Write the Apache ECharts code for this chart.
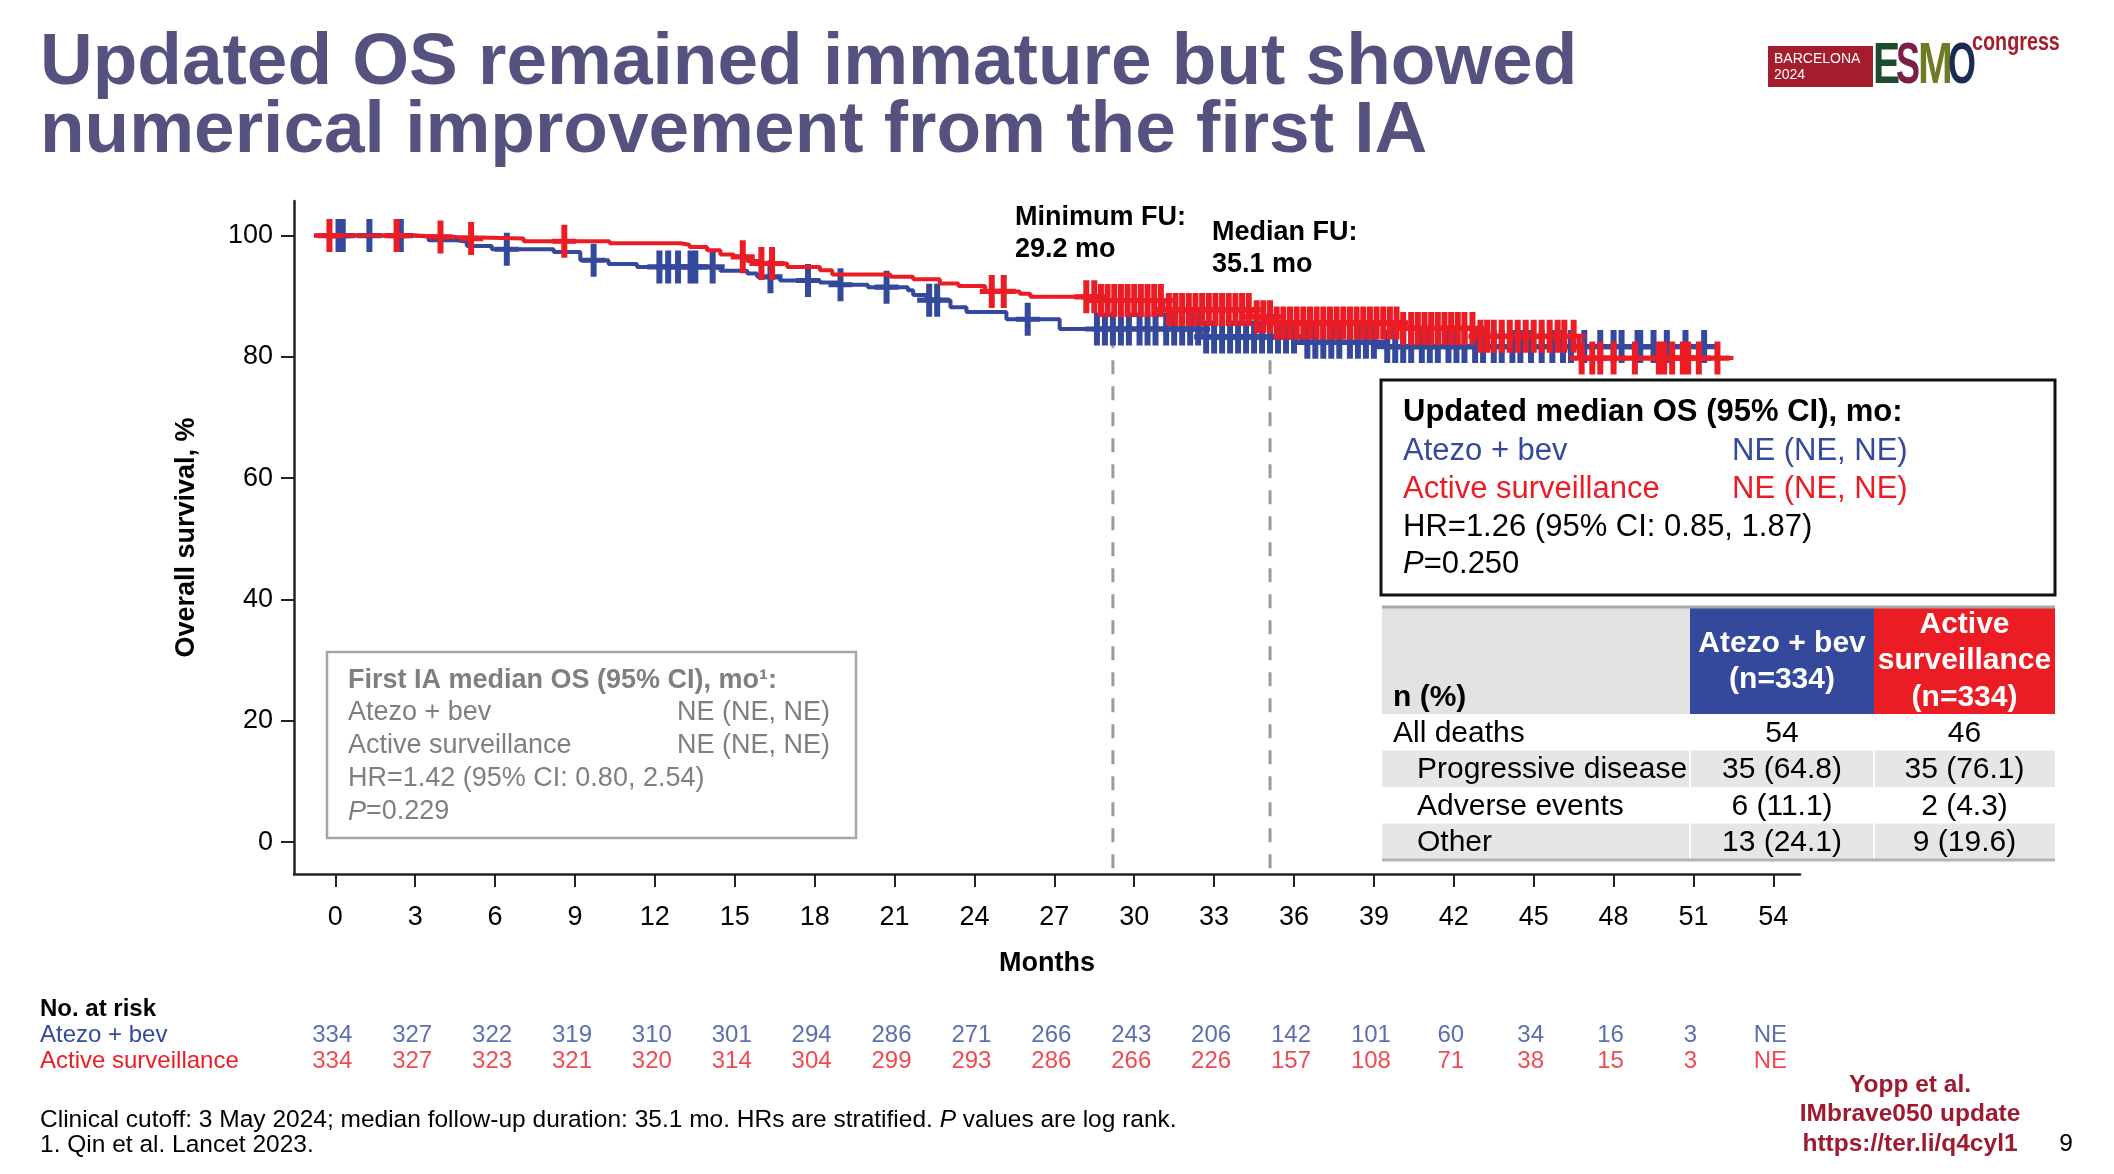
<!DOCTYPE html>
<html><head><meta charset="utf-8">
<script src="https://cdn.jsdelivr.net/npm/echarts@6/dist/echarts.min.js"></script>
<style>html,body{margin:0;padding:0;background:#fff}#c{width:2114px;height:1174px}</style>
</head><body><div id="c"></div>
<script>
const FF = '"Liberation Sans", Arial, Helvetica, sans-serif';
const BLUE = '#34499c';
const RED = '#ec1c24';
const TITLE_C = '#56527f';
const DARKRED = '#9e1b2f';

// ---- data ----
const xTicks = [0,3,6,9,12,15,18,21,24,27,30,33,36,39,42,45,48,51,54];
const yTicks = [0,20,40,60,80,100];

// Kaplan-Meier curves [month, survival %]
const atezoCurve = [[0,100],[3.73,99.84],[4.3,99.24],[5.36,98.96],[5.74,98.3],[6.68,97.75],[9.0,97.3],[10.0,95.94],[11.06,95.33],[12.13,94.84],[15.0,94.56],[15.26,94.2],[16.27,93.74],[16.64,93.2],[17.5,92.6],[19.0,92.25],[19.65,91.9],[20.8,91.5],[22.3,91.0],[22.5,90.2],[23.0,89.35],[23.9,88.2],[24.5,87.4],[26.0,86.2],[28.0,84.6],[33.3,83.3],[37.1,82.4],[39.9,81.7],[52.4,81.7]];
const activeCurve = [[0,100],[3.73,99.78],[5.36,99.5],[7.87,99.07],[11.1,98.74],[13.76,98.5],[14.1,98.1],[14.76,97.6],[15.26,96.9],[15.76,96.5],[16.27,95.8],[16.77,95.4],[17.77,94.8],[19.0,94.3],[19.46,93.6],[21.65,93.2],[22.5,92.8],[23.5,92.1],[24.2,91.7],[25.2,90.8],[26.5,90.4],[26.9,89.9],[29.5,89.3],[31.9,87.8],[35.2,86.6],[36.1,85.6],[40.7,84.7],[43.7,83.4],[47.5,79.8],[53.3,79.8]];

// censoring times (months)
const atezoCensor = [0.92,1.08,2.08,3.26,7.24,10.5,12.97,13.3,13.67,14.14,14.32,14.97,17.14,18.55,19.77,21.5,23.1,23.4,26.8,
  29.4,29.7,30.0,30.3,30.6,31.0,31.3,31.6,32.0,32.3,32.6,32.9,33.2,33.5,33.8,34.1,34.4,34.7,35.0,35.3,35.6,35.9,36.2,36.5,36.8,
  37.3,37.6,37.9,38.2,38.5,38.9,39.2,39.5,39.8,40.3,40.6,40.9,41.2,41.6,41.9,42.2,42.6,42.9,43.2,43.6,43.9,44.3,44.6,45.0,45.3,
  45.7,46.1,46.5,46.9,47.2,47.7,48.3,48.8,49.1,49.7,49.8,50.3,50.8,51.5,52.2];
const activeCensor = [0.58,3.1,4.75,5.9,9.4,16.1,16.8,17.2,25.45,25.9,29.0,
  29.3,29.55,29.8,30.05,30.3,30.55,30.8,31.05,31.3,31.55,31.8,32.1,32.35,32.6,32.85,33.1,33.35,33.6,33.85,34.1,34.35,34.6,34.85,
  35.1,35.4,35.65,35.9,36.15,36.4,36.65,36.9,37.15,37.4,37.65,37.9,38.15,38.4,38.65,38.9,39.15,39.4,39.65,39.9,40.15,40.4,40.65,
  40.9,41.2,41.45,41.7,41.95,42.2,42.45,42.7,42.95,43.2,43.5,43.8,44.05,44.3,44.6,44.9,45.2,45.5,45.8,46.1,46.4,46.7,46.95,47.3,
  47.6,48.0,48.3,48.8,49.6,50.5,50.7,51.0,51.4,51.6,52.0,52.7];

const minFU = 29.2, medFU = 35.1;

// number at risk
const riskRows = ['Atezo + bev', 'Active surveillance'];
const atezoRisk = [334,327,322,319,310,301,294,286,271,266,243,206,142,101,60,34,16,3,'NE'];
const activeRisk = [334,327,323,321,320,314,304,299,293,286,266,226,157,108,71,38,15,3,'NE'];

// deaths table
const tableRows = ['All deaths','Progressive disease','Adverse events','Other'];
const atezoDeaths = ['54','35 (64.8)','6 (11.1)','13 (24.1)'];
const activeDeaths = ['46','35 (76.1)','2 (4.3)','9 (19.6)'];

// ---- helpers ----
function stepValue(curve, t) {
  let v = curve[0][1];
  for (const p of curve) { if (p[0] <= t) v = p[1]; else break; }
  return v;
}
const censorPath = 'path://M9,0H15V13.5H24V18.5H15V32H9V18.5H0V13.5H9Z';

function T(x, y, text, o) {
  o = o || {};
  const el = {
    type: 'text', x: x, y: y, z: 10,
    style: {
      text: text,
      fill: o.color || '#000',
      font: (o.italic ? 'italic ' : '') + (o.bold ? 'bold ' : '') + (o.size || 24) + 'px ' + FF,
      align: o.align || 'left',
      verticalAlign: o.va || 'middle'
    }
  };
  if (o.rich) el.style.rich = o.rich;
  if (o.scaleX) el.scaleX = o.scaleX;
  return el;
}
function R(x, y, w, h, fill, stroke, lw) {
  return { type: 'rect', z: 5, shape: { x: x, y: y, width: w, height: h },
    style: { fill: fill || 'none', stroke: stroke || null, lineWidth: lw || 0 } };
}

const graphics = [];
// title
graphics.push(T(40, 64, 'Updated OS remained immature but showed', {bold:true, size:73, color:TITLE_C}));
graphics.push(T(40, 132, 'numerical improvement from the first IA', {bold:true, size:73, color:TITLE_C}));
// logo
graphics.push(R(1768, 46, 105, 41, '#a51d2d'));
graphics.push(T(1774, 59, 'BARCELONA', {size:14, color:'#fff'}));
graphics.push(T(1774, 75, '2024', {size:14, color:'#fff'}));
graphics.push(T(1873, 67, 'E', {bold:true, size:58, color:'#1e4b2b', scaleX:0.7}));
graphics.push(T(1896, 67, 'S', {bold:true, size:58, color:'#7b1f4a', scaleX:0.62}));
graphics.push(T(1918, 67, 'M', {bold:true, size:58, color:'#6e7b24', scaleX:0.72}));
graphics.push(T(1948, 67, 'O', {bold:true, size:58, color:'#1b2c54', scaleX:0.62}));
graphics.push(T(1972, 43, 'congress', {bold:true, size:26, color:'#a51d2d', scaleX:0.76}));

// FU annotations
graphics.push(T(1015, 218, 'Minimum FU:', {bold:true, size:27}));
graphics.push(T(1015, 250, '29.2 mo', {bold:true, size:27}));
graphics.push(T(1212, 233, 'Median FU:', {bold:true, size:27}));
graphics.push(T(1212, 265, '35.1 mo', {bold:true, size:27}));

// First IA box
const GREY = '#7f7f7f';
graphics.push(R(327, 652, 529, 186, '#fff', '#a6a6a6', 2.5));
graphics.push(T(348, 681, 'First IA median OS (95% CI), mo\u00b9:', {bold:true, size:27, color:GREY}));
graphics.push(T(348, 713, 'Atezo + bev', {size:27, color:GREY}));
graphics.push(T(677, 713, 'NE (NE, NE)', {size:27, color:GREY}));
graphics.push(T(348, 746, 'Active surveillance', {size:27, color:GREY}));
graphics.push(T(677, 746, 'NE (NE, NE)', {size:27, color:GREY}));
graphics.push(T(348, 779, 'HR=1.42 (95% CI: 0.80, 2.54)', {size:27, color:GREY}));
graphics.push(T(348, 812, '{i|P}=0.229', {size:27, color:GREY, rich:{i:{fontStyle:'italic', fontSize:27, fontFamily:FF, fill:GREY}}}));

// Updated box
graphics.push(R(1381, 380, 674, 215, '#fff', '#111', 3));
graphics.push(T(1403, 412, 'Updated median OS (95% CI), mo:', {bold:true, size:31}));
graphics.push(T(1403, 451, 'Atezo + bev', {size:31, color:BLUE}));
graphics.push(T(1732, 451, 'NE (NE, NE)', {size:31, color:BLUE}));
graphics.push(T(1403, 489, 'Active surveillance', {size:31, color:RED}));
graphics.push(T(1732, 489, 'NE (NE, NE)', {size:31, color:RED}));
graphics.push(T(1403, 527, 'HR=1.26 (95% CI: 0.85, 1.87)', {size:31}));
graphics.push(T(1403, 564, '{i|P}=0.250', {size:31, rich:{i:{fontStyle:'italic', fontSize:31, fontFamily:FF}}}));

// deaths table
const TX = 1382, C1 = 1690, C2 = 1874, TE = 2055;
graphics.push(R(TX, 607, C1 - TX, 107, '#e2e2e2'));
graphics.push(R(C1, 607, C2 - C1, 107, BLUE));
graphics.push(R(C2, 607, TE - C2, 107, RED));
graphics.push({type:'line', z:6, shape:{x1:TX, y1:607, x2:TE, y2:607}, style:{stroke:'#a8a8a8', lineWidth:3}});
graphics.push(T(1393, 698, 'n (%)', {bold:true, size:30}));
graphics.push(T((C1 + C2) / 2, 644, 'Atezo + bev', {bold:true, size:30, color:'#fff', align:'center'}));
graphics.push(T((C1 + C2) / 2, 680, '(n=334)', {bold:true, size:30, color:'#fff', align:'center'}));
graphics.push(T((C2 + TE) / 2, 625, 'Active', {bold:true, size:30, color:'#fff', align:'center'}));
graphics.push(T((C2 + TE) / 2, 661, 'surveillance', {bold:true, size:30, color:'#fff', align:'center'}));
graphics.push(T((C2 + TE) / 2, 698, '(n=334)', {bold:true, size:30, color:'#fff', align:'center'}));
const rowH = 36.5, row0 = 714;
tableRows.forEach((name, i) => {
  const y0 = row0 + i * rowH;
  if (i % 2 === 1) {
    graphics.push(R(TX, y0, C1 - TX - 1, rowH, '#e6e6e6'));
    graphics.push(R(C1 + 1, y0, C2 - C1 - 2, rowH, '#e6e6e6'));
    graphics.push(R(C2 + 1, y0, TE - C2 - 1, rowH, '#e6e6e6'));
  }
  const cy = y0 + rowH / 2 + 1;
  graphics.push(T(i === 0 ? 1393 : 1417, cy, name, {size:30}));
  graphics.push(T((C1 + C2) / 2, cy, atezoDeaths[i], {size:30, align:'center'}));
  graphics.push(T((C2 + TE) / 2, cy, activeDeaths[i], {size:30, align:'center'}));
});
graphics.push({type:'line', z:6, shape:{x1:TX, y1:row0 + 4 * rowH, x2:TE, y2:row0 + 4 * rowH}, style:{stroke:'#b4b4b4', lineWidth:3}});

// at risk header + footnotes
graphics.push(T(40, 1009, 'No. at risk', {bold:true, size:24}));
graphics.push(T(40, 1120, 'Clinical cutoff: 3 May 2024; median follow-up duration: 35.1 mo. HRs are stratified. {i|P} values are log rank.',
  {size:24.5, rich:{i:{fontStyle:'italic', fontSize:24.5, fontFamily:FF}}}));
graphics.push(T(40, 1145, '1. Qin et al. Lancet 2023.', {size:24.5}));
graphics.push(T(1910, 1085, 'Yopp et al.', {bold:true, size:24.5, color:DARKRED, align:'center'}));
graphics.push(T(1910, 1114, 'IMbrave050 update', {bold:true, size:24.5, color:DARKRED, align:'center'}));
graphics.push(T(1910, 1144, 'https://ter.li/q4cyl1', {bold:true, size:24.5, color:DARKRED, align:'center'}));
graphics.push(T(2066, 1144, '9', {size:24.5, align:'center'}));

// ---- chart ----
const GL = 294, GT = 201, GW = 1506, GH = 673;
const XMIN = -1.55, XMAX = 55.0;       // visible month axis
const DXMIN = -0.751, DXMAX = 55.8;    // axis of the plotted curves (picture offset)
const YMIN = -5.24, YMAX = 105.7;

const riskData = (vals, row) => xTicks.map((t, i) => [t, row, vals[i]]);

const option = {
  backgroundColor: '#fff',
  animation: false,
  textStyle: { fontFamily: FF },
  grid: [
    { left: GL, top: GT, width: GW, height: GH },
    { left: GL, top: 1022, width: GW, height: 52 }
  ],
  xAxis: [
    { type: 'value', gridIndex: 0, min: XMIN, max: XMAX,
      name: 'Months', nameLocation: 'middle', nameGap: 76,
      nameTextStyle: { fontSize: 27, fontWeight: 'bold', color: '#000', fontFamily: FF },
      axisLine: { onZero: false, lineStyle: { color: '#222', width: 2.5 } },
      axisTick: { show: true, length: 13, lineStyle: { color: '#222', width: 2 }, customValues: xTicks },
      axisLabel: { fontSize: 27, color: '#000', margin: 30, customValues: xTicks, fontFamily: FF },
      splitLine: { show: false } },
    { type: 'value', gridIndex: 0, min: DXMIN, max: DXMAX, show: false },
    { type: 'value', gridIndex: 1, min: XMIN, max: XMAX, show: false }
  ],
  yAxis: [
    { type: 'value', gridIndex: 0, min: YMIN, max: YMAX,
      name: 'Overall survival, %', nameLocation: 'middle', nameRotate: 90, nameGap: 94,
      nameTextStyle: { fontSize: 27, fontWeight: 'bold', color: '#000', fontFamily: FF },
      axisLine: { show: true, onZero: false, lineStyle: { color: '#222', width: 2.5 } },
      axisTick: { show: true, length: 13, lineStyle: { color: '#222', width: 2 }, customValues: yTicks },
      axisLabel: { fontSize: 27, color: '#000', margin: 21, customValues: yTicks, fontFamily: FF },
      splitLine: { show: false } },
    { type: 'category', gridIndex: 1, data: riskRows, inverse: true,
      axisLine: { show: false }, axisTick: { show: false },
      axisLabel: { align: 'left', margin: GL - 40, fontSize: 24, fontFamily: FF, interval: 0,
        color: (v, i) => (i === 0 ? BLUE : RED) } }
  ],
  series: [
    { type: 'line', xAxisIndex: 0, yAxisIndex: 0, symbol: 'none', silent: true, z: 1,
      data: [[minFU, 88], [minFU, YMIN]],
      lineStyle: { color: '#9b9b9b', width: 3, type: [14, 12] } },
    { type: 'line', xAxisIndex: 0, yAxisIndex: 0, symbol: 'none', silent: true, z: 1,
      data: [[medFU, 88], [medFU, YMIN]],
      lineStyle: { color: '#9b9b9b', width: 3, type: [14, 12] } },
    { name: 'Atezo + bev', type: 'line', xAxisIndex: 1, yAxisIndex: 0, step: 'end', symbol: 'none', z: 2,
      data: atezoCurve, lineStyle: { color: BLUE, width: 4 } },
    { type: 'scatter', xAxisIndex: 1, yAxisIndex: 0, symbol: censorPath, symbolSize: [24, 33], z: 3,
      data: atezoCensor.map(t => [t, stepValue(atezoCurve, t)]), itemStyle: { color: BLUE, opacity: 1 } },
    { name: 'Active surveillance', type: 'line', xAxisIndex: 1, yAxisIndex: 0, step: 'end', symbol: 'none', z: 4,
      data: activeCurve, lineStyle: { color: RED, width: 4 } },
    { type: 'scatter', xAxisIndex: 1, yAxisIndex: 0, symbol: censorPath, symbolSize: [24, 33], z: 5,
      data: activeCensor.map(t => [t, stepValue(activeCurve, t)]), itemStyle: { color: RED, opacity: 1 } },
    { type: 'scatter', xAxisIndex: 2, yAxisIndex: 1, symbolSize: 0, silent: true,
      data: riskData(atezoRisk, riskRows[0]),
      label: { show: true, position: 'inside', offset: [-3, 0], formatter: p => p.value[2], color: BLUE, fontSize: 24, fontFamily: FF } },
    { type: 'scatter', xAxisIndex: 2, yAxisIndex: 1, symbolSize: 0, silent: true,
      data: riskData(activeRisk, riskRows[1]),
      label: { show: true, position: 'inside', offset: [-3, 0], formatter: p => p.value[2], color: RED, fontSize: 24, fontFamily: FF } }
  ],
  graphic: graphics
};

const chart = echarts.init(document.getElementById('c'), null, { renderer: 'canvas' });
chart.setOption(option);
</script></body></html>
